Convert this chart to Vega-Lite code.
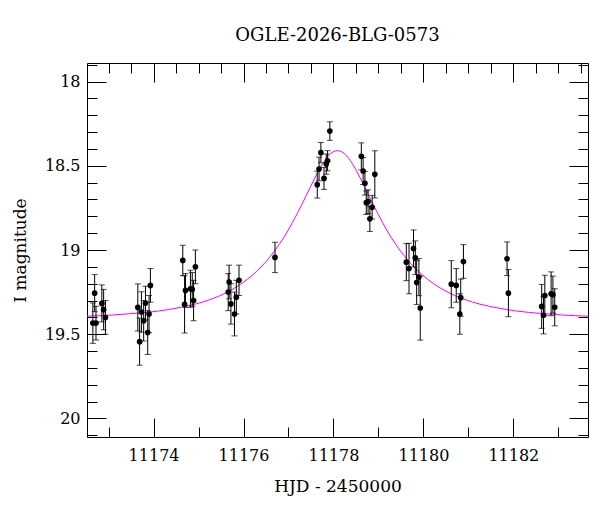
{
  "$schema": "https://vega.github.io/schema/vega-lite/v6.json",
  "width": 501,
  "height": 374,
  "autosize": {"type": "none"},
  "padding": {"left": 87, "top": 63, "right": 12, "bottom": 75},
  "title": {"text": "OGLE-2026-BLG-0573", "font": "DejaVu Serif", "fontSize": 18, "fontWeight": "normal", "color": "black", "anchor": "middle", "offset": 12},
  "config": {
    "view": {"stroke": "black", "strokeWidth": 1},
    "axis": {"grid": false, "domain": false, "tickColor": "black", "tickWidth": 1, "labelFont": "DejaVu Serif", "labelFontSize": 16, "labelColor": "black", "titleFont": "DejaVu Serif", "titleFontSize": 17, "titleFontWeight": "normal", "titleColor": "black", "labelOverlap": false, "labelFlush": false}
  },
  "datasets": {
    "obs": [
      {"hjd": 11172.65, "mag": 19.434, "err": 0.12},
      {"hjd": 11172.69, "mag": 19.256, "err": 0.11},
      {"hjd": 11172.72, "mag": 19.434, "err": 0.10},
      {"hjd": 11172.85, "mag": 19.317, "err": 0.11},
      {"hjd": 11172.89, "mag": 19.354, "err": 0.12},
      {"hjd": 11172.93, "mag": 19.40, "err": 0.10},
      {"hjd": 11173.65, "mag": 19.341, "err": 0.14},
      {"hjd": 11173.69, "mag": 19.544, "err": 0.14},
      {"hjd": 11173.73, "mag": 19.368, "err": 0.12},
      {"hjd": 11173.78, "mag": 19.42, "err": 0.12},
      {"hjd": 11173.82, "mag": 19.315, "err": 0.10},
      {"hjd": 11173.87, "mag": 19.49, "err": 0.13},
      {"hjd": 11173.90, "mag": 19.38, "err": 0.11},
      {"hjd": 11173.93, "mag": 19.21, "err": 0.10},
      {"hjd": 11174.65, "mag": 19.062, "err": 0.09},
      {"hjd": 11174.69, "mag": 19.323, "err": 0.17},
      {"hjd": 11174.71, "mag": 19.24, "err": 0.10},
      {"hjd": 11174.82, "mag": 19.23, "err": 0.11},
      {"hjd": 11174.86, "mag": 19.234, "err": 0.10},
      {"hjd": 11174.89, "mag": 19.30, "err": 0.12},
      {"hjd": 11174.93, "mag": 19.10, "err": 0.10},
      {"hjd": 11175.66, "mag": 19.25, "err": 0.11},
      {"hjd": 11175.68, "mag": 19.19, "err": 0.10},
      {"hjd": 11175.72, "mag": 19.32, "err": 0.12},
      {"hjd": 11175.80, "mag": 19.38, "err": 0.13},
      {"hjd": 11175.84, "mag": 19.28, "err": 0.10},
      {"hjd": 11175.90, "mag": 19.18, "err": 0.09},
      {"hjd": 11176.70, "mag": 19.044, "err": 0.09},
      {"hjd": 11177.64, "mag": 18.612, "err": 0.08},
      {"hjd": 11177.68, "mag": 18.519, "err": 0.07},
      {"hjd": 11177.72, "mag": 18.422, "err": 0.06},
      {"hjd": 11177.79, "mag": 18.575, "err": 0.065},
      {"hjd": 11177.84, "mag": 18.49, "err": 0.06},
      {"hjd": 11177.87, "mag": 18.47, "err": 0.06},
      {"hjd": 11177.92, "mag": 18.294, "err": 0.055},
      {"hjd": 11178.62, "mag": 18.444, "err": 0.08},
      {"hjd": 11178.66, "mag": 18.531, "err": 0.08},
      {"hjd": 11178.70, "mag": 18.604, "err": 0.07},
      {"hjd": 11178.73, "mag": 18.719, "err": 0.07},
      {"hjd": 11178.77, "mag": 18.713, "err": 0.07},
      {"hjd": 11178.81, "mag": 18.815, "err": 0.075},
      {"hjd": 11178.86, "mag": 18.746, "err": 0.07},
      {"hjd": 11178.92, "mag": 18.551, "err": 0.14},
      {"hjd": 11179.62, "mag": 19.072, "err": 0.11},
      {"hjd": 11179.68, "mag": 19.11, "err": 0.15},
      {"hjd": 11179.78, "mag": 18.991, "err": 0.11},
      {"hjd": 11179.82, "mag": 19.046, "err": 0.10},
      {"hjd": 11179.85, "mag": 19.193, "err": 0.13},
      {"hjd": 11179.90, "mag": 19.161, "err": 0.11},
      {"hjd": 11179.93, "mag": 19.345, "err": 0.19},
      {"hjd": 11180.62, "mag": 19.203, "err": 0.14},
      {"hjd": 11180.73, "mag": 19.21, "err": 0.10},
      {"hjd": 11180.81, "mag": 19.38, "err": 0.12},
      {"hjd": 11180.83, "mag": 19.283, "err": 0.11},
      {"hjd": 11180.89, "mag": 19.068, "err": 0.10},
      {"hjd": 11181.86, "mag": 19.052, "err": 0.10},
      {"hjd": 11181.89, "mag": 19.256, "err": 0.14},
      {"hjd": 11182.63, "mag": 19.335, "err": 0.13},
      {"hjd": 11182.67, "mag": 19.388, "err": 0.11},
      {"hjd": 11182.70, "mag": 19.27, "err": 0.12},
      {"hjd": 11182.84, "mag": 19.26, "err": 0.13},
      {"hjd": 11182.88, "mag": 19.265, "err": 0.11},
      {"hjd": 11182.92, "mag": 19.34, "err": 0.11}
    ],
    "model": [
      {"hjd": 11172.52, "mag": 19.393},
      {"hjd": 11173.09, "mag": 19.386},
      {"hjd": 11173.59, "mag": 19.376},
      {"hjd": 11174.09, "mag": 19.363},
      {"hjd": 11174.59, "mag": 19.341},
      {"hjd": 11175.09, "mag": 19.309},
      {"hjd": 11175.34, "mag": 19.286},
      {"hjd": 11175.59, "mag": 19.257},
      {"hjd": 11175.84, "mag": 19.220},
      {"hjd": 11176.09, "mag": 19.173},
      {"hjd": 11176.19, "mag": 19.151},
      {"hjd": 11176.29, "mag": 19.127},
      {"hjd": 11176.39, "mag": 19.101},
      {"hjd": 11176.49, "mag": 19.072},
      {"hjd": 11176.59, "mag": 19.040},
      {"hjd": 11176.69, "mag": 19.006},
      {"hjd": 11176.79, "mag": 18.968},
      {"hjd": 11176.89, "mag": 18.928},
      {"hjd": 11176.99, "mag": 18.884},
      {"hjd": 11177.09, "mag": 18.836},
      {"hjd": 11177.19, "mag": 18.786},
      {"hjd": 11177.29, "mag": 18.734},
      {"hjd": 11177.39, "mag": 18.679},
      {"hjd": 11177.49, "mag": 18.624},
      {"hjd": 11177.59, "mag": 18.570},
      {"hjd": 11177.69, "mag": 18.519},
      {"hjd": 11177.79, "mag": 18.475},
      {"hjd": 11177.89, "mag": 18.440},
      {"hjd": 11177.99, "mag": 18.418},
      {"hjd": 11178.09, "mag": 18.410},
      {"hjd": 11178.19, "mag": 18.418},
      {"hjd": 11178.29, "mag": 18.440},
      {"hjd": 11178.39, "mag": 18.475},
      {"hjd": 11178.49, "mag": 18.519},
      {"hjd": 11178.59, "mag": 18.570},
      {"hjd": 11178.69, "mag": 18.624},
      {"hjd": 11178.79, "mag": 18.679},
      {"hjd": 11178.89, "mag": 18.734},
      {"hjd": 11178.99, "mag": 18.786},
      {"hjd": 11179.09, "mag": 18.836},
      {"hjd": 11179.19, "mag": 18.884},
      {"hjd": 11179.29, "mag": 18.928},
      {"hjd": 11179.39, "mag": 18.968},
      {"hjd": 11179.49, "mag": 19.006},
      {"hjd": 11179.59, "mag": 19.040},
      {"hjd": 11179.69, "mag": 19.072},
      {"hjd": 11179.79, "mag": 19.101},
      {"hjd": 11179.89, "mag": 19.127},
      {"hjd": 11179.99, "mag": 19.151},
      {"hjd": 11180.09, "mag": 19.173},
      {"hjd": 11180.34, "mag": 19.220},
      {"hjd": 11180.59, "mag": 19.257},
      {"hjd": 11180.84, "mag": 19.286},
      {"hjd": 11181.09, "mag": 19.309},
      {"hjd": 11181.59, "mag": 19.341},
      {"hjd": 11182.09, "mag": 19.363},
      {"hjd": 11182.59, "mag": 19.376},
      {"hjd": 11183.09, "mag": 19.386},
      {"hjd": 11183.66, "mag": 19.393}
    ]
  },
  "resolve": {"axis": {"x": "independent", "y": "independent"}},
  "layer": [
    {
      "data": {"name": "model"},
      "mark": {"type": "line", "color": "#ff00ff", "strokeWidth": 1, "interpolate": "monotone", "clip": true},
      "encoding": {
        "x": {"field": "hjd", "type": "quantitative",
          "scale": {"domain": [11172.52, 11183.66], "nice": false, "zero": false},
          "axis": {"orient": "bottom", "title": "HJD - 2450000", "format": "d",
            "values": [11172.5, 11173, 11173.5, 11174, 11174.5, 11175, 11175.5, 11176, 11176.5, 11177, 11177.5, 11178, 11178.5, 11179, 11179.5, 11180, 11180.5, 11181, 11181.5, 11182, 11182.5, 11183, 11183.5],
            "tickSize": {"condition": {"test": "datum.value % 2 === 0", "value": -19}, "value": -10},
            "labelExpr": "datum.value % 2 === 0 ? datum.label : ''",
            "labelPadding": 29, "titlePadding": 6}},
        "y": {"field": "mag", "type": "quantitative",
          "scale": {"domain": [17.89, 20.11], "nice": false, "zero": false, "reverse": true},
          "axis": {"orient": "left", "title": "I magnitude",
            "values": [17.9, 18, 18.1, 18.2, 18.3, 18.4, 18.5, 18.6, 18.7, 18.8, 18.9, 19, 19.1, 19.2, 19.3, 19.4, 19.5, 19.6, 19.7, 19.8, 19.9, 20, 20.1],
            "tickSize": {"condition": {"test": "abs(datum.value*2 - round(datum.value*2)) < 0.01", "value": -19}, "value": -10},
            "labelExpr": "abs(datum.value*2 - round(datum.value*2)) < 0.01 ? format(datum.value, '~g') : ''",
            "labelPadding": 26, "titlePadding": 15}}
      }
    },
    {
      "data": {"name": "obs"},
      "mark": {"type": "errorbar", "color": "black", "thickness": 1, "ticks": {"size": 6, "color": "black"}},
      "encoding": {
        "x": {"field": "hjd", "type": "quantitative", "scale": {"domain": [11172.52, 11183.66], "nice": false, "zero": false}, "axis": null},
        "y": {"field": "mag", "type": "quantitative", "scale": {"domain": [17.89, 20.11], "nice": false, "zero": false, "reverse": true}, "axis": null},
        "yError": {"field": "err"}
      }
    },
    {
      "data": {"name": "obs"},
      "mark": {"type": "point", "filled": true, "color": "black", "size": 32, "opacity": 1},
      "encoding": {
        "x": {"field": "hjd", "type": "quantitative",
          "scale": {"domain": [11172.52, 11183.66], "nice": false, "zero": false},
          "axis": {"orient": "top", "title": null, "labels": false,
            "values": [11172.5, 11173, 11173.5, 11174, 11174.5, 11175, 11175.5, 11176, 11176.5, 11177, 11177.5, 11178, 11178.5, 11179, 11179.5, 11180, 11180.5, 11181, 11181.5, 11182, 11182.5, 11183, 11183.5],
            "tickSize": {"condition": {"test": "datum.value % 2 === 0", "value": -19}, "value": -10}}},
        "y": {"field": "mag", "type": "quantitative",
          "scale": {"domain": [17.89, 20.11], "nice": false, "zero": false, "reverse": true},
          "axis": {"orient": "right", "title": null, "labels": false,
            "values": [17.9, 18, 18.1, 18.2, 18.3, 18.4, 18.5, 18.6, 18.7, 18.8, 18.9, 19, 19.1, 19.2, 19.3, 19.4, 19.5, 19.6, 19.7, 19.8, 19.9, 20, 20.1],
            "tickSize": {"condition": {"test": "abs(datum.value*2 - round(datum.value*2)) < 0.01", "value": -19}, "value": -10}}}
      }
    }
  ]
}
